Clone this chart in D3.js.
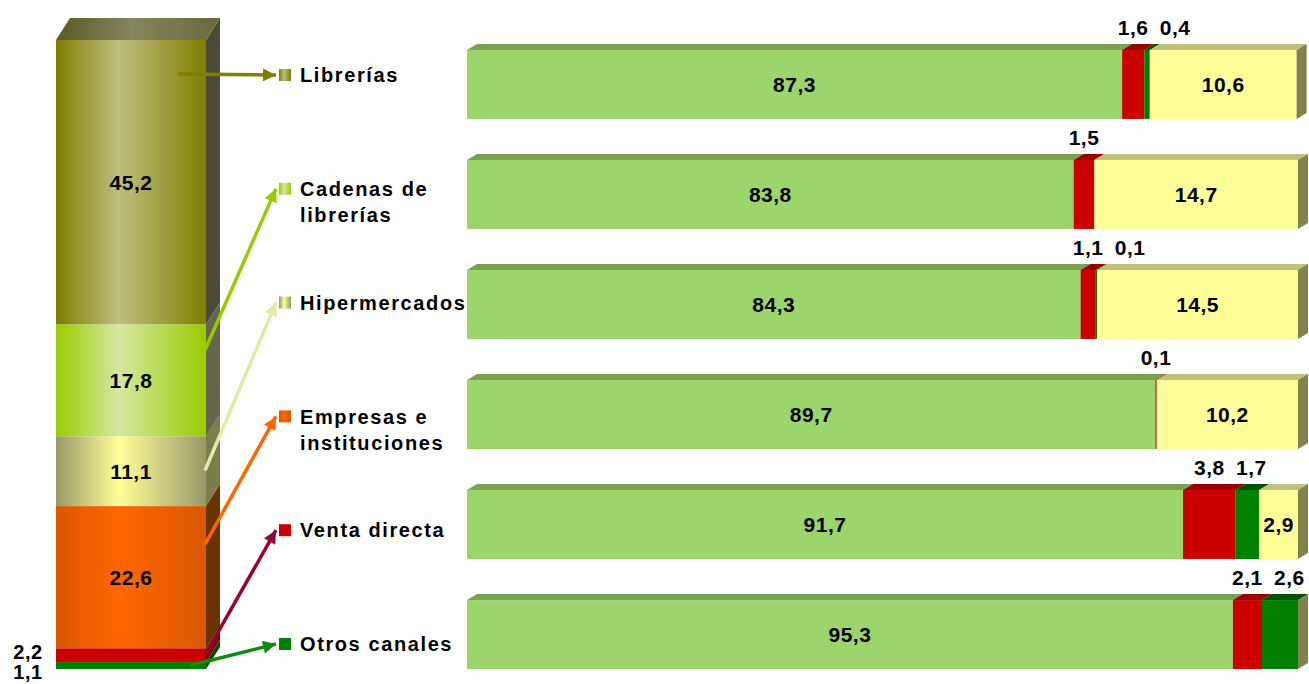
<!DOCTYPE html>
<html>
<head>
<meta charset="utf-8">
<script src="https://cdnjs.cloudflare.com/ajax/libs/d3/7.8.5/d3.min.js"></script>
<style>
  body { margin: 0; background: #fff; }
  svg text { font-family: "Liberation Sans", Arial, sans-serif; font-weight: bold; fill: #000; }
</style>
</head>
<body>
<div id="chart"></div>
<script>
// categories (canal de venta), left stacked share and right stacked breakdown
var categories = ["Librerías", "Cadenas de librerías", "Hipermercados", "Empresas e instituciones", "Venta directa", "Otros canales"];
var legendLines = [["Librerías"], ["Cadenas de", "librerías"], ["Hipermercados"], ["Empresas e", "instituciones"], ["Venta directa"], ["Otros canales"]];
var shareValues = [45.2, 17.8, 11.1, 22.6, 2.2, 1.1];

var serie1 = [87.3, 83.8, 84.3, 89.7, 91.7, 95.3];
var serie2 = [1.6, 1.5, 1.1, 0.1, 3.8, 2.1];
var serie3 = [0.4, 0, 0.1, 0, 1.7, 2.6];
var serie4 = [10.6, 14.7, 14.5, 10.2, 2.9, 0];
var seriesKeys = ["serie1", "serie2", "serie3", "serie4"];

var width = 1309, height = 684;
var fmt = function(v) { return d3.format(".1f")(v).replace(".", ","); };

var svg = d3.select("#chart").append("svg")
    .attr("width", width)
    .attr("height", height);
var defs = svg.append("defs");

// ---------- colours ----------
var leftStyle = {
  "Librerías":               { edge: "#7f7f00", mid: "#bebe80", side: "#4a4a36", arrow: "#808000" },
  "Cadenas de librerías":    { edge: "#99cc00", mid: "#d6e8a2", side: "#66664c", arrow: "#99cc00" },
  "Hipermercados":           { edge: "#999968", mid: "#ffff99", side: "#7c7c4c", arrow: "#e4eaa6" },
  "Empresas e instituciones":{ edge: "#da5800", mid: "#ff6600", side: "#6b3300", arrow: "#ff6600" },
  "Venta directa":           { edge: "#cc0000", mid: "#cc0000", side: "#7a0000", arrow: "#990033" },
  "Otros canales":           { edge: "#008000", mid: "#008000", side: "#004d00", arrow: "#108a10" }
};
var serieFront = { serie1: "#9cd56c", serie2: "#cc0000", serie3: "#008000", serie4: "#ffff99" };
var serieTop   = { serie1: "#79a14f", serie2: "#990000", serie3: "#005200", serie4: "#c1c07a" };

categories.forEach(function(c, i) {
  var s = leftStyle[c];
  var g = defs.append("linearGradient").attr("id", "lg" + i)
      .attr("x1", "0%").attr("x2", "100%").attr("y1", "0%").attr("y2", "0%");
  g.append("stop").attr("offset", "0%").attr("stop-color", s.edge);
  g.append("stop").attr("offset", "42%").attr("stop-color", s.mid);
  g.append("stop").attr("offset", "100%").attr("stop-color", s.edge);
});
var tg = defs.append("linearGradient").attr("id", "lgtop")
    .attr("x1", "0%").attr("x2", "100%").attr("y1", "0%").attr("y2", "0%");
tg.append("stop").attr("offset", "0%").attr("stop-color", "#5a5a22");
tg.append("stop").attr("offset", "45%").attr("stop-color", "#85855e");
tg.append("stop").attr("offset", "100%").attr("stop-color", "#6a6a3c");

// ---------- left stacked column ----------
var colX0 = 56, colX1 = 206, depthX = 14, depthY = 22;
var yL = d3.scaleLinear().domain([0, 100]).range([669, 40]);

var leftData = [];
var acc = 0;
for (var i = categories.length - 1; i >= 0; i--) {
  leftData.push({ name: categories[i], idx: i, v: shareValues[i], y0: acc, y1: acc + shareValues[i] });
  acc += shareValues[i];
}

var col = svg.append("g");
col.selectAll("rect.seg")
  .data(leftData)
  .enter().append("rect")
    .attr("class", "seg")
    .attr("x", colX0)
    .attr("y", function(d) { return yL(d.y1); })
    .attr("width", colX1 - colX0)
    .attr("height", function(d) { return yL(d.y0) - yL(d.y1); })
    .attr("fill", function(d) { return "url(#lg" + d.idx + ")"; });

col.selectAll("path.side")
  .data(leftData)
  .enter().append("path")
    .attr("class", "side")
    .attr("d", function(d) {
      var a = yL(d.y1), b = yL(d.y0);
      return "M" + colX1 + "," + a + "L" + (colX1 + depthX) + "," + (a - depthY) +
             "L" + (colX1 + depthX) + "," + (b - depthY) + "L" + colX1 + "," + b + "Z";
    })
    .attr("fill", function(d) { return leftStyle[d.name].side; });

col.append("path")
  .attr("d", "M" + colX0 + "," + yL(100) + "L" + (colX0 + depthX) + "," + (yL(100) - depthY) +
             "L" + (colX1 + depthX) + "," + (yL(100) - depthY) + "L" + colX1 + "," + yL(100) + "Z")
  .attr("fill", "url(#lgtop)");

// labels in column
var bigLeft = leftData.filter(function(d) { return d.v >= 5; });
col.selectAll("text.in")
  .data(bigLeft)
  .enter().append("text")
    .attr("class", "in")
    .attr("x", (colX0 + colX1) / 2)
    .attr("y", function(d) { return (yL(d.y0) + yL(d.y1)) / 2; })
    .attr("dy", "0.36em")
    .attr("text-anchor", "middle")
    .style("font-size", "21px")
    .style("letter-spacing", "0.5px")
    .text(function(d) { return fmt(d.v); });

// small shares go outside, on the left, stacked downwards
var smallLeft = leftData.filter(function(d) { return d.v < 5; }).reverse();
var prevY = -Infinity;
smallLeft.forEach(function(d) {
  var c = (yL(d.y0) + yL(d.y1)) / 2 - 3;
  d.ly = Math.max(c, prevY + 20);
  prevY = d.ly;
});
col.selectAll("text.out")
  .data(smallLeft)
  .enter().append("text")
    .attr("class", "out")
    .attr("x", 28)
    .attr("y", function(d) { return d.ly; })
    .attr("dy", "0.36em")
    .attr("text-anchor", "middle")
    .style("font-size", "20px")
    .style("letter-spacing", "0.5px")
    .text(function(d) { return fmt(d.v); });

// ---------- legend with arrows ----------
var legendY = d3.scalePoint().domain(categories).range([75, 644]);
var iconX = 279, iconS = 12, textX = 300;
// where each arrow leaves the column: x and fraction down the segment
var arrowFrom = [[178, 0.12], [205, 0.23], [205, 0.49], [205, 0.27], [205, 0.5], [190, 0.5]];

categories.forEach(function(c, i) {
  var m = defs.append("marker").attr("id", "ah" + i)
      .attr("viewBox", "0 0 10 10").attr("refX", 10).attr("refY", 5)
      .attr("markerUnits", "userSpaceOnUse")
      .attr("markerWidth", 15).attr("markerHeight", 13)
      .attr("orient", "auto");
  m.append("path").attr("d", "M0,0L10,5L0,10Z").attr("fill", leftStyle[c].arrow);
});

var legend = svg.append("g");
categories.forEach(function(c, i) {
  var d = leftData.filter(function(e) { return e.name === c; })[0];
  var top = yL(d.y1), bot = yL(d.y0);
  var sy = top + (bot - top) * arrowFrom[i][1];
  var ty = legendY(c);
  legend.append("line")
    .attr("x1", arrowFrom[i][0]).attr("y1", sy)
    .attr("x2", iconX - 3).attr("y2", ty)
    .attr("stroke", leftStyle[c].arrow)
    .attr("stroke-width", 3.5)
    .attr("marker-end", "url(#ah" + i + ")");
  legend.append("rect")
    .attr("x", iconX).attr("y", ty - iconS / 2)
    .attr("width", iconS).attr("height", iconS)
    .attr("fill", "url(#lg" + i + ")");
  var t = legend.append("text")
    .attr("x", textX).attr("y", ty)
    .style("font-size", "20px")
    .style("letter-spacing", "1.6px");
  legendLines[i].forEach(function(line, k) {
    t.append("tspan").attr("x", textX).attr("dy", k === 0 ? "0.36em" : "1.3em").text(line);
  });
});

// ---------- right stacked bars ----------
var rows = categories.map(function(c, i) {
  return { name: c, serie1: serie1[i], serie2: serie2[i], serie3: serie3[i], serie4: serie4[i] };
});
var stack = d3.stack().keys(seriesKeys)(rows);

var x = d3.scaleLinear().domain([40, 100]).range([467, 1298]).clamp(true);
var y = d3.scaleBand().domain(categories).range([29.5, 689.5]).paddingInner(0.373).paddingOuter(0.186);
var bdx = 10, bdy = 6;

var bars = svg.append("g");
stack.forEach(function(layer) {
  var key = layer.key;
  layer.forEach(function(p, i) {
    var xa = x(p[0]), xb = x(p[1]);
    if (xb - xa <= 0) return;
    var y0 = y(categories[i]);
    bars.append("path")
      .attr("d", "M" + xa + "," + y0 + "L" + (xa + bdx) + "," + (y0 - bdy) +
                 "L" + (xb + bdx) + "," + (y0 - bdy) + "L" + xb + "," + y0 + "Z")
      .attr("fill", serieTop[key]);
    bars.append("rect")
      .attr("x", xa).attr("y", y0)
      .attr("width", xb - xa).attr("height", y.bandwidth())
      .attr("fill", serieFront[key]);
  });
});

// side face at the end of each bar
bars.selectAll("path.bside")
  .data(rows)
  .enter().append("path")
    .attr("class", "bside")
    .attr("d", function(d) {
      var total = d.serie1 + d.serie2 + d.serie3 + d.serie4;
      var xe = x(total), y0 = y(d.name), y1 = y0 + y.bandwidth();
      return "M" + xe + "," + y0 + "L" + (xe + bdx) + "," + (y0 - bdy) +
             "L" + (xe + bdx) + "," + (y1 - bdy) + "L" + xe + "," + y1 + "Z";
    })
    .attr("fill", "#82824f");

// labels
stack.forEach(function(layer) {
  var key = layer.key;
  if (key !== "serie1" && key !== "serie4") return;
  layer.forEach(function(p, i) {
    var v = rows[i][key];
    if (!v) return;
    bars.append("text")
      .attr("x", (x(p[0]) + x(p[1])) / 2)
      .attr("y", y(categories[i]) + y.bandwidth() / 2)
      .attr("dy", "0.36em")
      .attr("text-anchor", "middle")
      .style("font-size", "21px")
      .style("letter-spacing", "0.5px")
      .text(fmt(v));
  });
});

rows.forEach(function(r, i) {
  var prevX = -Infinity;
  ["serie2", "serie3"].forEach(function(key) {
    var v = r[key];
    if (!v) return;
    var layer = stack[seriesKeys.indexOf(key)][i];
    var cx = (x(layer[0]) + x(layer[1])) / 2;
    cx = Math.max(cx, prevX + 42);
    prevX = cx;
    bars.append("text")
      .attr("x", cx)
      .attr("y", y(r.name) - 23)
      .attr("dy", "0.36em")
      .attr("text-anchor", "middle")
      .style("font-size", "21px")
      .style("letter-spacing", "0.5px")
      .text(fmt(v));
  });
});
</script>
</body>
</html>
